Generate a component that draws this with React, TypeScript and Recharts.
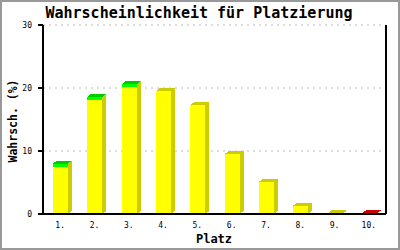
import { BarChart, Bar, XAxis, YAxis, CartesianGrid } from "recharts";

const places = ["1.", "2.", "3.", "4.", "5.", "6.", "7.", "8.", "9.", "10."];
const probs = [8.0, 18.6, 20.6, 19.5, 17.3, 9.5, 5.1, 1.3, 0.1, 0.1];
// which places get a coloured cap
const marks = ["best", "best", "best", "", "", "", "", "", "", "worst"];
const yTicks = [0, 10, 20, 30];

const data = places.map((place, i) => ({ place, prob: probs[i], mark: marks[i] }));

const mono = "'DejaVu Sans Mono', monospace";

const caps: Record<string, [string, string]> = {
  best: ["#00ff00", "#00cc00"],
  worst: ["#ff0000", "#cc0000"],
};

function Bar3D(props: any) {
  const { x, y, width, height, payload } = props;
  const dx = 4;
  const dy = 3;
  const cap = caps[payload.mark];
  const bottom = y + height;
  return (
    <g shapeRendering="crispEdges">
      <polygon
        points={`${x + width},${y} ${x + width + dx},${y - dy} ${x + width + dx},${bottom - dy} ${x + width},${bottom}`}
        fill="#cccc00"
      />
      <rect x={x} y={y} width={width} height={height} fill="#ffff00" />
      {cap && (
        <rect x={x} y={y} width={width} height={Math.min(3, height)} fill={cap[0]} />
      )}
      <polygon
        points={`${x},${y} ${x + dx},${y - dy} ${x + width + dx},${y - dy} ${x + width},${y}`}
        fill={cap ? cap[1] : "#cccc00"}
      />
    </g>
  );
}

export default function App() {
  return (
    <div style={{ position: "absolute", left: 0, top: 0, width: 400, height: 250, background: "#fff" }}>
      <BarChart
        width={400}
        height={250}
        data={data}
        margin={{ top: 25, right: 13, bottom: 16, left: 0 }}
      >
        <CartesianGrid vertical={false} stroke="#bbbbbb" strokeDasharray="2 4" />
        <XAxis
          dataKey="place"
          interval={0}
          height={20}
          tickLine={false}
          axisLine={{ stroke: "#000", strokeWidth: 2 }}
          tick={{ fontFamily: mono, fontSize: 8, fill: "#000" }}
        />
        <YAxis
          domain={[0, 30]}
          ticks={yTicks}
          width={43}
          tickSize={5}
          tickMargin={6}
          axisLine={{ stroke: "#000", strokeWidth: 2 }}
          tickLine={{ stroke: "#000", strokeWidth: 2 }}
          tick={{ fontFamily: mono, fontSize: 8, fill: "#000" }}
        />
        <YAxis
          yAxisId="r"
          orientation="right"
          domain={[0, 30]}
          width={1}
          tick={false}
          tickLine={false}
          axisLine={{ stroke: "#000", strokeWidth: 2 }}
        />
        <Bar dataKey="prob" barSize={15} shape={<Bar3D />} isAnimationActive={false} />
      </BarChart>
      <svg
        width={400}
        height={250}
        style={{ position: "absolute", left: 0, top: 0, pointerEvents: "none" }}
      >
        <text x={199} y={18} textAnchor="middle" fontFamily={mono} fontSize={15} fontWeight="bold">
          Wahrscheinlichkeit für Platzierung
        </text>
        <text
          x={17}
          y={121}
          textAnchor="middle"
          fontFamily={mono}
          fontSize={11.5}
          fontWeight="bold"
          transform="rotate(-90, 17, 121)"
        >
          Wahrsch. (%)
        </text>
        <text x={214} y={243} textAnchor="middle" fontFamily={mono} fontSize={12} fontWeight="bold">
          Platz
        </text>
        <rect x={1} y={1} width={398} height={248} fill="none" stroke="#999" strokeWidth={2} />
      </svg>
    </div>
  );
}
